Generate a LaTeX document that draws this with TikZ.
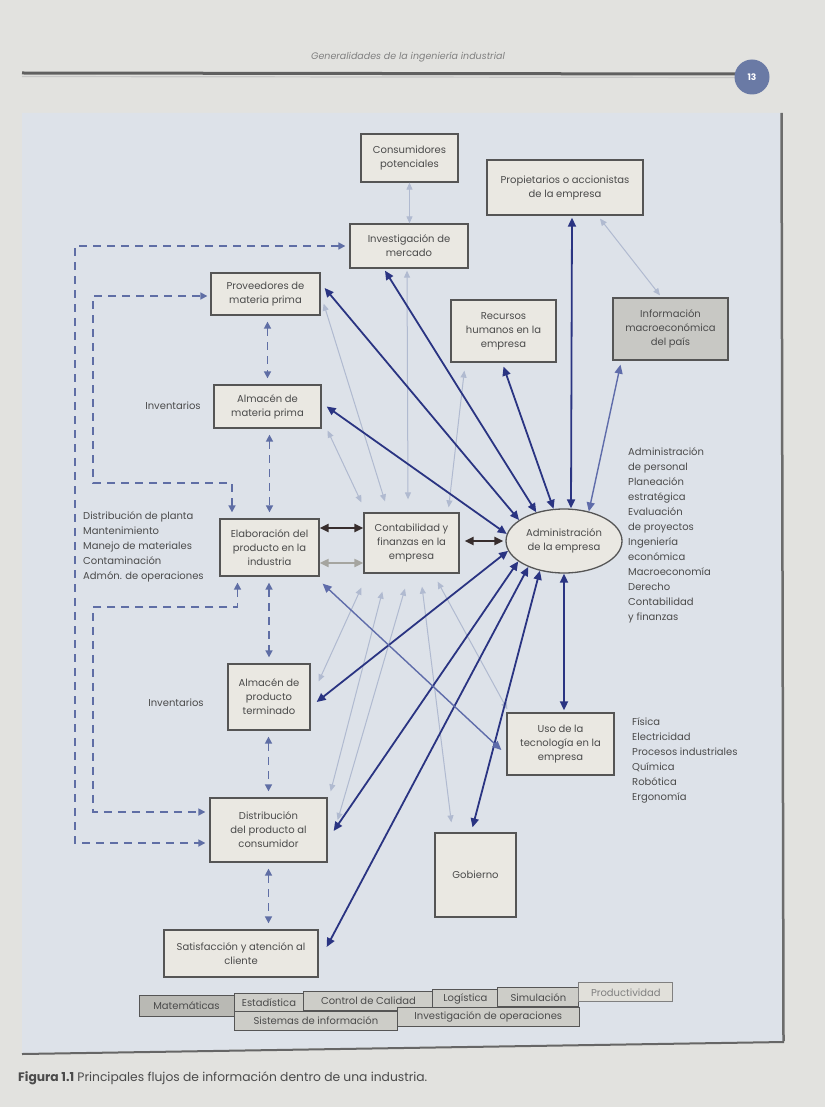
\documentclass[tikz,border=0pt]{standalone}
\usepackage{fontspec}
\setmainfont{Poppins}
\usetikzlibrary{arrows.meta,shapes.geometric,calc}
\definecolor{pagebg}{RGB}{226,226,223}
\definecolor{panelbg}{RGB}{221,226,233}
\definecolor{boxfill}{RGB}{234,232,226}
\definecolor{boxline}{RGB}{85,85,85}
\definecolor{txt}{RGB}{75,75,75}
\definecolor{navy}{RGB}{42,52,130}
\definecolor{midblue}{RGB}{95,108,170}
\definecolor{lightblue}{RGB}{176,186,208}
\definecolor{dashblue}{RGB}{95,110,165}
\definecolor{darkbrown}{RGB}{55,45,45}
\definecolor{grayarr}{RGB}{165,165,160}
\definecolor{infofill}{RGB}{200,200,196}
\definecolor{badge}{RGB}{106,122,165}
\definecolor{cellfill}{RGB}{205,205,200}
\definecolor{celldark}{RGB}{185,185,180}
\begin{document}
\begin{tikzpicture}[x=1pt,y=-1pt,
  box/.style={draw=boxline, fill=boxfill, line width=1.3pt, align=center,
    font=\fontsize{10}{14}\selectfont, text=txt, inner sep=1pt},
  listtxt/.style={align=left, font=\fontsize{10}{15}\selectfont, text=txt, inner sep=0pt},
  cell/.style={draw=boxline, fill=cellfill, line width=0.9pt, font=\fontsize{10}{11}\selectfont,
    text=txt, inner sep=0pt, minimum height=19pt},
  tipd/.tip={Triangle[length=9pt,width=8pt]},
  tipl/.tip={Triangle[length=7pt,width=6pt]},
  arrdark/.style={navy, line width=1.8pt, tipd-tipd},
  arrmid/.style={midblue, line width=1.4pt, tipd-tipd},
  arrlight/.style={lightblue, line width=1pt, tipl-tipl},
  arrblack/.style={darkbrown, line width=2.4pt, tipd-tipd},
  arrgray/.style={grayarr, line width=2pt, tipd-tipd},
  arrdash/.style={dashblue, line width=1.6pt, dash pattern=on 8pt off 6pt,
    {Triangle[length=7pt,width=7pt]}-{Triangle[length=7pt,width=7pt]}}]
% page and panel
\fill[pagebg] (0,0) rectangle (825,1107);
\useasboundingbox (0,0) rectangle (825,1107);
\fill[panelbg] (22,113) -- (781,113) -- (783,1041) -- (22,1053) -- cycle;
\draw[line width=2.5pt, gray!85!black] (781.5,113) -- (783.5,1041);
\draw[line width=2pt, gray!80!black] (22,1054) -- (784,1042);
% header
\node[font=\fontsize{9.5}{10}\selectfont\itshape, text=gray] (hdr) at (408,57) {Generalidades de la ingeniería industrial};
\draw[line width=3pt, gray!75!black] (22,73) -- (738,74);
\draw[line width=1.2pt, gray!45] (22,76.5) -- (738,77.5);
\node[circle, fill=badge, minimum size=35pt, inner sep=0pt, text=white,
  font=\fontsize{9}{10}\selectfont\bfseries] (pg) at (752,77) {13};
% boxes
\node[box, minimum width=97pt, minimum height=48pt] (cons) at (409.5,158) {Consumidores\\potenciales};
\node[box, minimum width=156pt, minimum height=55pt] (prop) at (565,187.5) {Propietarios o accionistas\\de la empresa};
\node[box, minimum width=118pt, minimum height=44pt] (inv) at (409,246) {Investigación de\\mercado};
\node[box, minimum width=109pt, minimum height=42pt] (prov) at (265.5,294) {Proveedores de\\materia prima};
\node[box, minimum width=105pt, minimum height=62pt] (rh) at (503.5,331) {Recursos\\humanos en la\\empresa};
\node[box, fill=infofill, minimum width=115pt, minimum height=62pt] (info) at (670.5,329) {Información\\macroeconómica\\del país};
\node[box, minimum width=107pt, minimum height=43pt] (amp) at (267.5,406.5) {Almacén de\\materia prima};
\node[box, minimum width=99pt, minimum height=57pt] (elab) at (269.5,547.5) {Elaboración del\\producto en la\\industria};
\node[box, minimum width=95pt, minimum height=60pt] (cont) at (411.5,543) {Contabilidad y\\finanzas en la\\empresa};
\node[box, ellipse, minimum width=116pt, minimum height=64pt, inner sep=0pt] (adm) at (564,541) {Administración\\de la empresa};
\node[box, minimum width=82pt, minimum height=66pt] (apt) at (269,697) {Almacén de\\producto\\terminado};
\node[box, minimum width=107pt, minimum height=62pt] (uso) at (560.5,744) {Uso de la\\tecnología en la\\empresa};
\node[box, minimum width=117pt, minimum height=64pt] (dist) at (268.5,830) {Distribución\\del producto al\\consumidor};
\node[box, minimum width=81pt, minimum height=84pt] (gob) at (475.5,875) {Gobierno};
\node[box, minimum width=154pt, minimum height=47pt] (sat) at (241,953.5) {Satisfacción y atención al\\cliente};
% side texts
\node[listtxt] (inv1) at (173,406) {Inventarios};
\node[listtxt] (inv2) at (176,703) {Inventarios};
\node[listtxt, anchor=north west] (lst1) at (83,511) {Distribución de planta\\Mantenimiento\\Manejo de materiales\\Contaminación\\Admón. de operaciones};
\node[listtxt, anchor=north west] (lst2) at (628,447) {Administración\\de personal\\Planeación\\estratégica\\Evaluación\\de proyectos\\Ingeniería\\económica\\Macroeconomía\\Derecho\\Contabilidad\\y finanzas};
\node[listtxt, anchor=north west] (lst3) at (632,717) {Física\\Electricidad\\Procesos industriales\\Química\\Robótica\\Ergonomía};
% light connectors
\draw[arrlight] (cons.south) -- (cons.south |- inv.north);
\draw[arrlight] ([xshift=35pt,yshift=-3pt]prop.south) -- ([xshift=-10.5pt,yshift=2pt]info.north);
\draw[arrlight] ([xshift=-2pt,yshift=10pt]cont.north west) -- ([xshift=6pt,yshift=-2pt]amp.south east);
\draw[arrlight] ([xshift=-26.5pt,yshift=11pt]cont.north) -- ([xshift=3pt,yshift=12pt]prov.south east);
\draw[arrlight] ([xshift=-3.5pt,yshift=13pt]cont.north) -- ([xshift=-2pt,yshift=-2pt]inv.south);
\draw[arrlight] ([xshift=-11pt,yshift=5pt]cont.north east) -- ([xshift=14pt,yshift=-8pt]rh.south west);
\draw[arrlight] ([xshift=-2pt,yshift=-14pt]cont.south west) -- ([xshift=8pt,yshift=-18pt]apt.north east);
\draw[arrlight] ([xshift=19pt,yshift=-18pt]cont.south west) -- ([xshift=3pt,yshift=6pt]dist.north east);
\draw[arrlight] ([xshift=-6.5pt,yshift=-15pt]cont.south) -- ([xshift=10pt,yshift=10pt]dist.east);
\draw[arrlight] ([xshift=10.5pt,yshift=-13pt]cont.south) -- ([xshift=17pt,yshift=10pt]gob.north west);
\draw[arrlight] ([xshift=-22pt,yshift=-8pt]cont.south east) -- ([xshift=1pt,yshift=3pt]uso.north west);
% black and gray
\draw[arrblack] ([yshift=19.5pt]elab.east) -- ([yshift=15pt]cont.west);
\draw[arrgray] ([yshift=-15.5pt]elab.east) -- ([yshift=-20pt]cont.west);
\draw[arrblack] ([xshift=5pt,yshift=2pt]cont.east) -- ([xshift=-2pt]adm.west);
% dark blue
\draw[arrdark] (adm.173) -- ([xshift=5pt]amp.east);
\draw[arrdark] (adm.155) -- ([xshift=4pt,yshift=6pt]prov.east);
\draw[arrdark] (adm.134) -- ([xshift=-24pt,yshift=-2pt]inv.south);
\draw[arrdark] (adm.108) -- ([yshift=-4pt]rh.south);
\draw[arrdark] ([xshift=7pt]adm.north) -- ([xshift=7pt,yshift=-2pt]prop.south);
\draw[arrmid] (adm.50) -- ([xshift=-50pt,yshift=-4pt]info.south);
\draw[arrdark] (adm.190) -- ([xshift=6pt,yshift=-5pt]apt.east);
\draw[arrdark] (adm.204) -- ([xshift=6pt,yshift=-1pt]dist.east);
\draw[arrdark] (adm.216) -- ([xshift=8pt,yshift=6.5pt]sat.east);
\draw[arrdark] (adm.231) -- ([xshift=-3pt,yshift=5pt]gob.north);
\draw[arrdark] (adm.south) -- ([xshift=3.5pt,yshift=2pt]uso.north);
\draw[arrmid] ([xshift=3pt,yshift=-7pt]elab.south east) -- ([xshift=-5pt,yshift=-6pt]uso.west);
% dashed
\coordinate (oc) at (75,500);
\coordinate (c1) at (93,483);
\coordinate (c2) at (93,607);
\draw[arrdash] ([xshift=-4pt]inv.west) -| (oc) |- ([xshift=-4pt,yshift=-13pt]dist.west);
\draw[arrdash] ([xshift=-37.5pt,yshift=6pt]elab.north) |- (c1) |- ([xshift=-3pt,yshift=-2pt]prov.west);
\draw[arrdash] ([xshift=-32pt,yshift=-6pt]elab.south) |- (c2) |- ([xshift=-4pt,yshift=18pt]dist.west);
\draw[arrdash] ($(amp.north |- prov.south)+(0,6)$) -- ($(amp.north)+(0,-6)$);
\draw[arrdash] ($(elab.north |- amp.south)+(0,6)$) -- ($(elab.north)+(0,-6)$);
\draw[arrdash] ($(apt.north |- elab.south)+(0,6)$) -- ($(apt.north)+(0,-6)$);
\draw[arrdash] ($(dist.north |- apt.south)+(0,6)$) -- ($(dist.north)+(0,-6)$);
\draw[arrdash] ($(dist.south)+(0,6)$) -- ($(dist.south |- sat.north)+(0,-6)$);
% table
\begin{scope}[rotate around={1.2:(139,1006)}]
\node[cell, fill=celldark, minimum width=95pt, minimum height=21pt] (t1) at (186.5,1006.5) {Matemáticas};
\node[cell, minimum width=70pt] (t2) at (269,1005.5) {Estadística};
\node[cell, minimum width=129pt] (t3) at (368.5,1005.5) {Control de Calidad};
\node[cell, minimum width=65pt] (t4) at (465.5,1005.5) {Logística};
\node[cell, minimum width=81pt] (t5) at (538.5,1005.5) {Simulación};
\node[cell, fill=boxfill!70!cellfill, draw=gray, text=gray, minimum width=94pt] (t6) at (626,1002.5) {Productividad};
\node[cell, minimum width=163pt] (t7) at (315.5,1024.5) {Sistemas de información};
\node[cell, minimum width=182pt] (t8) at (488,1024.5) {Investigación de operaciones};
\end{scope}
% caption
\node[anchor=west, font=\fontsize{12.3}{13}\selectfont, text=txt, inner sep=0pt] (cap) at (18,1078)
  {\textbf{Figura 1.1} Principales flujos de información dentro de una industria.};
\end{tikzpicture}
\end{document}
